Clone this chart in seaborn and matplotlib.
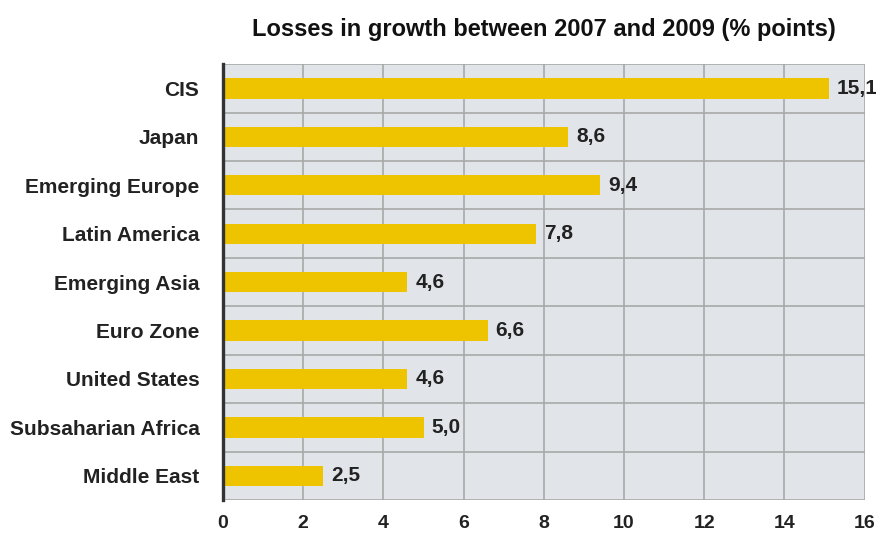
import matplotlib
matplotlib.use("Agg")
import matplotlib.pyplot as plt
import seaborn as sns
import pandas as pd
import numpy as np

categories = ["CIS", "Japan", "Emerging Europe", "Latin America", "Emerging Asia",
              "Euro Zone", "United States", "Subsaharian Africa", "Middle East"]
values = [15.1, 8.6, 9.4, 7.8, 4.6, 6.6, 4.6, 5.0, 2.5]
x_ticks = [0, 2, 4, 6, 8, 10, 12, 14, 16]
title = "Losses in growth between 2007 and 2009 (% points)"

df = pd.DataFrame({"region": categories, "loss": values})

sns.set_theme(style="white")
plt.rcParams["font.family"] = ["Liberation Sans", "DejaVu Sans"]

fig = plt.figure(figsize=(8.76, 5.35), dpi=100)
ax = fig.add_axes([0.2546, 0.0654, 0.987 - 0.2546, 0.880 - 0.0654])
ax.set_facecolor("#E1E4E8")

sns.barplot(data=df, x="loss", y="region", orient="h", color="#EEC300",
            saturation=1, width=0.42, ax=ax, zorder=3, linewidth=0, edgecolor="none")

ax.set_xlim(0, 16)
ax.set_ylim(len(categories) - 0.5, -0.5)
ax.set_xticks(x_ticks)
ax.set_xticklabels([str(t) for t in x_ticks], fontsize=14, fontweight="bold", color="#222222")
ax.set_yticks(range(len(categories)))
ax.set_yticklabels(categories, fontsize=15, fontweight="bold", color="#222222")
ax.set_yticks(np.arange(-0.5, len(categories), 1.0), minor=True)

ax.tick_params(axis="y", which="major", length=0, pad=17)
ax.tick_params(axis="y", which="minor", length=11, width=1.2, color="#A8A8A8", direction="out")
ax.tick_params(axis="x", which="major", length=7, width=1.2, color="#A8A8A8", direction="out", pad=4)

ax.grid(axis="x", which="major", color="#A8A8A8", linewidth=1.2, zorder=1)
ax.grid(axis="y", which="minor", color="#A8A8A8", linewidth=1.2, zorder=1)
ax.set_axisbelow(True)

for s in ["top", "right", "bottom"]:
    ax.spines[s].set_visible(False)
ax.spines["left"].set_color("#333333")
ax.spines["left"].set_linewidth(2.4)
ax.spines["left"].set_zorder(5)

ax.set_xlabel("")
ax.set_ylabel("")

for i, v in enumerate(values):
    ax.text(v + 0.2, i, f"{v:.1f}".replace(".", ","), va="center", ha="left",
            fontsize=15, fontweight="bold", color="#222222", zorder=4)

ax.set_title(title, fontsize=17, fontweight="bold", color="#111111", pad=20)

fig.savefig("out.png", dpi=100)
